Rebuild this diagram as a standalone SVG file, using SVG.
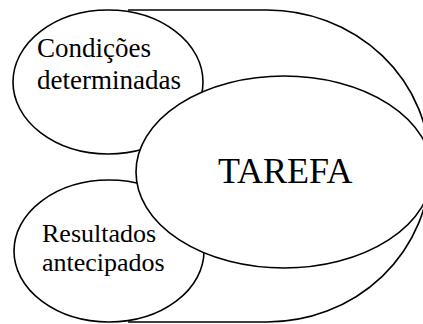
<svg xmlns="http://www.w3.org/2000/svg" width="423" height="324" viewBox="0 0 423 324">
<style>
.s{fill:#fff;stroke:#000;stroke-width:1.6}
.o{fill:none;stroke:#000;stroke-width:1.6}
.t{font-family:'Liberation Serif','DejaVu Serif',serif;fill:#000}
</style>
<rect width="423" height="324" fill="#fff"/>
<g id="connectors">
<path class="o" d="M128,10 H267 A163 156 0 0 1 267 322 H128"/>
</g>
<g id="condicoes">
<ellipse class="s" cx="108" cy="82" rx="95" ry="72"/>
<text class="t" x="37" y="57" font-size="27">Condições</text>
<text class="t" x="37" y="89" font-size="27">determinadas</text>
</g>
<g id="resultados">
<ellipse class="s" cx="109" cy="251" rx="95" ry="71"/>
<text class="t" x="42" y="242" font-size="26">Resultados</text>
<text class="t" x="42" y="271" font-size="26">antecipados</text>
</g>
<g id="tarefa">
<ellipse class="s" cx="284" cy="172" rx="148" ry="96"/>
<text class="t" x="218" y="183" font-size="36">TAREFA</text>
</g>
</svg>
